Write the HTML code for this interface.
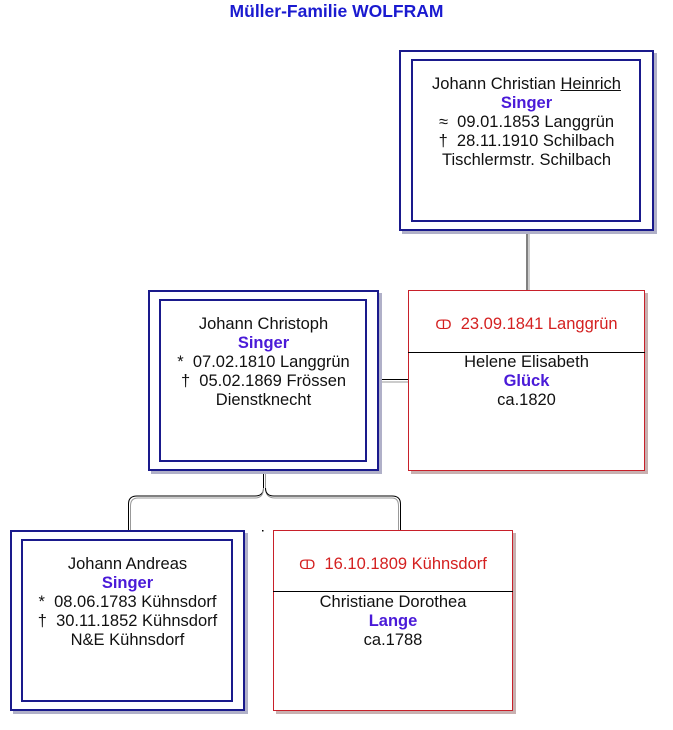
<!DOCTYPE html>
<html><head><meta charset="utf-8"><style>
body{margin:0;width:673px;height:730px;background:#fff;position:relative;overflow:hidden;font-family:"Liberation Sans",Arial,sans-serif;}
.b{position:absolute;box-sizing:border-box;}
.o{border:2px solid #1a1a8c;box-shadow:3px 3px 0 #b0b0c8;background:#fff;}
.i{border:2px solid #1a1a8c;}
.r{border:1px solid #c8202a;box-shadow:3px 3px 0 #c8b0b0;background:#fff;}
.t{position:absolute;text-align:center;font-size:16.5px;line-height:19px;color:#111;white-space:nowrap;}
.s{color:#4a1ad8;font-weight:bold;}
.m{color:#d42020;}
.ring{font-size:13px;}
</style></head><body>
<div class="t" style="left:0;width:673px;top:2px;font-size:17.5px;font-weight:bold;color:#1a1ad0;">Müller-Familie WOLFRAM</div>
<svg width="673" height="730" style="position:absolute;left:0;top:0">
<line x1="527" y1="231" x2="527" y2="290" stroke="#000" stroke-width="1"/>
<line x1="529" y1="231" x2="529" y2="290" stroke="#999" stroke-width="1"/>
<line x1="379" y1="379.5" x2="408" y2="379.5" stroke="#000"/>
<line x1="379" y1="382" x2="408" y2="382" stroke="#999"/>
<path d="M263.5 471 V488 Q263.5 496 255 496 H137 Q128.5 496 128.5 504 V530" fill="none" stroke="#000"/>
<path d="M265.5 471 V488 Q265.5 498 275 498 H392 Q398.5 498 398.5 506 V530" fill="none" stroke="#999"/>
<path d="M265.5 488 Q265.5 496 274 496 H392 Q400.5 496 400.5 504 V530" fill="none" stroke="#000"/>
<path d="M263.5 488 Q263.5 498 255 498 H138 Q130.5 498 130.5 506 V530" fill="none" stroke="#999"/>
<rect x="262" y="530" width="1.5" height="1.5" fill="#000"/>
</svg>
<div class="b o" style="left:399px;top:50px;width:255px;height:181px"></div>
<div class="b i" style="left:411px;top:59px;width:230px;height:163px"></div>
<div class="t" style="left:399px;width:255px;top:75px">Johann Christian <u>Heinrich</u><br><span class="s">Singer</span><br>≈&nbsp; 09.01.1853 Langgrün<br>†&nbsp; 28.11.1910 Schilbach<br>Tischlermstr. Schilbach</div>

<div class="b o" style="left:148px;top:290px;width:231px;height:181px"></div>
<div class="b i" style="left:159px;top:299px;width:208px;height:163px"></div>
<div class="t" style="left:148px;width:231px;top:315px">Johann Christoph<br><span class="s">Singer</span><br>*&nbsp; 07.02.1810 Langgrün<br>†&nbsp; 05.02.1869 Frössen<br>Dienstknecht</div>

<div class="b r" style="left:408px;top:290px;width:237px;height:181px"></div>
<div class="b" style="left:408px;top:352px;width:237px;height:1px;background:#000"></div>
<div class="t m" style="left:408px;width:237px;top:315px"><span class="ring">ↀ</span>&nbsp; 23.09.1841 Langgrün</div>
<div class="t" style="left:408px;width:237px;top:353px">Helene Elisabeth<br><span class="s">Glück</span><br>ca.1820</div>

<div class="b o" style="left:10px;top:530px;width:235px;height:181px"></div>
<div class="b i" style="left:21px;top:539px;width:212px;height:163px"></div>
<div class="t" style="left:10px;width:235px;top:555px">Johann Andreas<br><span class="s">Singer</span><br>*&nbsp; 08.06.1783 Kühnsdorf<br>†&nbsp; 30.11.1852 Kühnsdorf<br>N&amp;E Kühnsdorf</div>

<div class="b r" style="left:273px;top:530px;width:240px;height:181px"></div>
<div class="b" style="left:273px;top:591px;width:240px;height:1px;background:#000"></div>
<div class="t m" style="left:273px;width:240px;top:555px"><span class="ring">ↀ</span>&nbsp; 16.10.1809 Kühnsdorf</div>
<div class="t" style="left:273px;width:240px;top:593px">Christiane Dorothea<br><span class="s">Lange</span><br>ca.1788</div>
</body></html>
